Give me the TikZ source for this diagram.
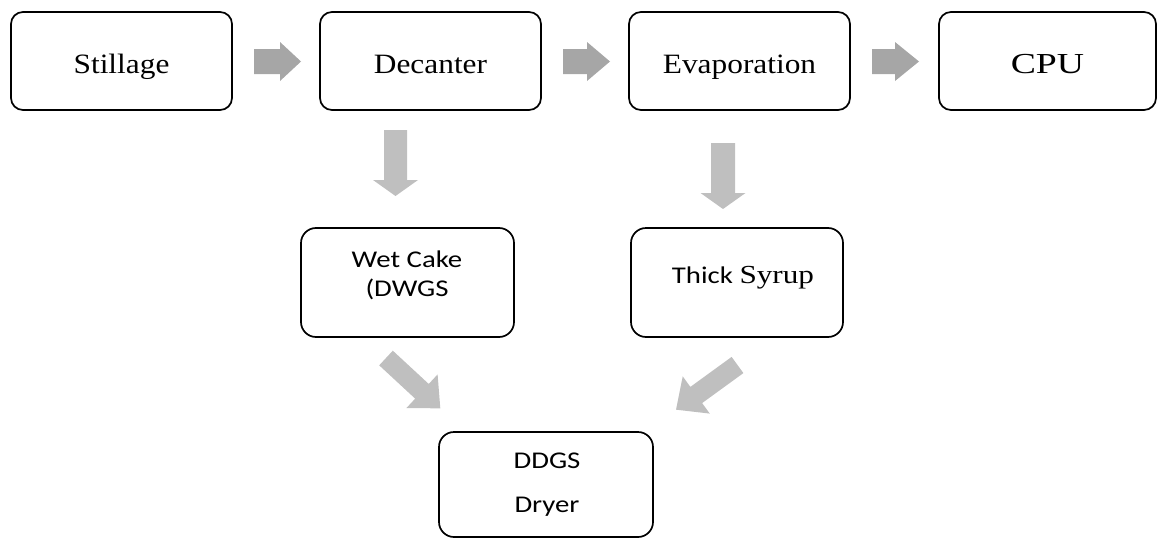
\documentclass[tikz,border=0pt]{standalone}
\usepackage{fontspec}
\setmainfont{Liberation Serif}
\newfontfamily\carl{Carlito}
\definecolor{harrow}{HTML}{A6A6A6}
\definecolor{varrow}{HTML}{BFBFBF}
\newcommand\blockarrow[7]{%
  \fill[#7, shift={(#1)}, rotate=#2]
    (0,{-#5}) -- ({#3-#4},{-#5}) -- ({#3-#4},{-#6}) -- (#3,0)
    -- ({#3-#4},#6) -- ({#3-#4},#5) -- (0,#5) -- cycle;}
\tikzset{
  box/.style={draw, line width=1.7pt, rounded corners=12pt, inner sep=0pt},
  topbox/.style={box, minimum width=221pt, minimum height=98pt, text height=24pt, text depth=0pt},
  lowbox/.style={box, rounded corners=15pt, minimum width=213pt, minimum height=109pt},
  serifT/.style={font=\fontsize{28}{34}\selectfont},
  txt/.style={anchor=base, inner sep=0pt},
}
\begin{document}
\begin{tikzpicture}[x=1pt, y=-1pt]
\useasboundingbox (0,0) rectangle (1159,538);
% top row
\node[topbox, serifT] (still) at (121.5,61) {\scalebox{1.12}[1]{Stillage}};
\node[topbox, serifT] (dec)   at (430.5,61) {\scalebox{1.12}[1]{Decanter}};
\node[topbox, serifT] (evap)  at (739.5,61) {\scalebox{1.12}[1]{Evaporation}};
\node[topbox, minimum width=217pt, font=\fontsize{29}{35}\selectfont] (cpu) at (1047.5,61) {\scalebox{1.3}[1]{CPU}};
% middle row
\node[lowbox] (wet)   at (407.5,282.5) {};
\node[lowbox, minimum width=212pt] (syrup) at (737,282.5) {};
\node[txt, font=\carl\fontsize{24}{28}\selectfont] (wet1) at (407,267) {\scalebox{1.2}[1]{Wet Cake}};
\node[txt, font=\carl\fontsize{24}{28}\selectfont] (wet2) at (407,296) {\scalebox{1.2}[1]{(DWGS}};
\node[txt, font=\carl\fontsize{24}{28}\selectfont] (syr1) at (743,283) {\scalebox{1.2}[1]{Thick {\rmfamily\fontsize{26}{30}\selectfont Syrup}}};
% bottom
\node[lowbox, minimum width=214pt, minimum height=105pt] (ddgs) at (546,484.5) {};
\node[txt, font=\carl\fontsize{24}{28}\selectfont] (dd1) at (547,468) {\scalebox{1.2}[1]{DDGS}};
\node[txt, font=\carl\fontsize{24}{28}\selectfont] (dd2) at (547,512) {\scalebox{1.2}[1]{Dryer}};
% block arrows
\blockarrow{254,61.5}{0}{47}{21}{12.5}{19.5}{harrow}
\blockarrow{563,61.5}{0}{47}{23}{12.5}{19.5}{harrow}
\blockarrow{872,61.5}{0}{47}{24}{12.5}{19.5}{harrow}
\blockarrow{395.5,130}{-90}{66}{16}{11.5}{22.5}{varrow}
\blockarrow{723,143}{-90}{66}{16}{12}{22.5}{varrow}
\blockarrow{386,358}{-42.8}{74}{25}{10}{23}{varrow}
\blockarrow{737.5,365}{-144}{76}{25}{10}{23}{varrow}
\end{tikzpicture}
\end{document}
